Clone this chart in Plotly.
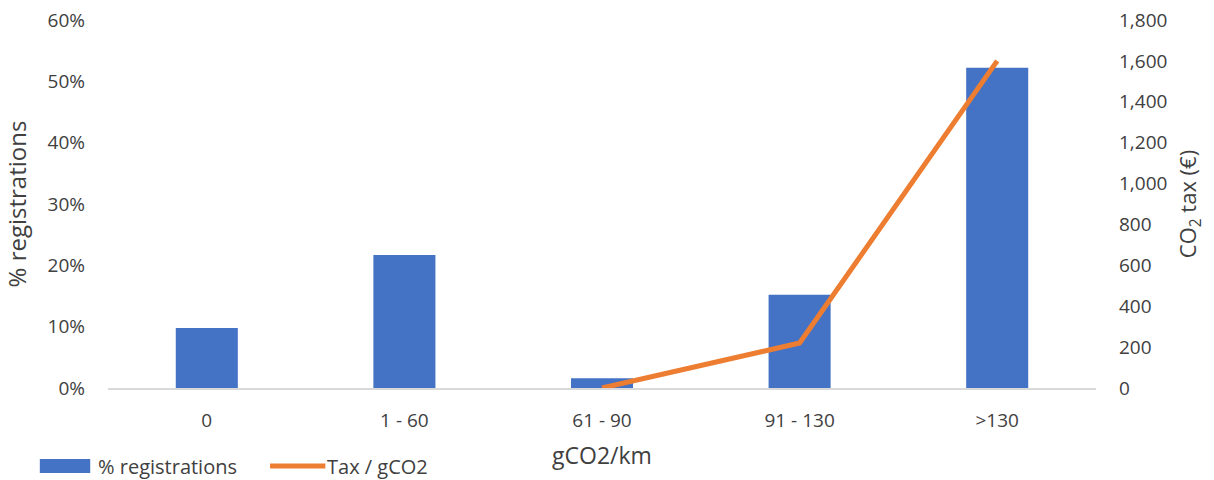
import plotly.graph_objects as go

# Emission bands and their values
bands = ["0", "1 - 60", "61 - 90", "91 - 130", ">130"]
registrations_pct = [9.8, 21.7, 1.6, 15.2, 52.2]
tax_bands = ["61 - 90", "91 - 130", ">130"]
tax_eur = [0, 220, 1600]

left_ticks = [0, 10, 20, 30, 40, 50, 60]
right_ticks = [0, 200, 400, 600, 800, 1000, 1200, 1400, 1600, 1800]

BAR_NAME = "% registrations"
LINE_NAME = "Tax / gCO2"

FONT = "Open Sans"
TEXT = "#404040"
BLUE = "#4472C4"
ORANGE = "#ED7D31"

fig = go.Figure()
fig.add_trace(go.Bar(
    x=bands, y=registrations_pct, name=BAR_NAME,
    marker=dict(color=BLUE, line=dict(width=0)),
    yaxis="y", showlegend=False,
))
fig.add_trace(go.Scatter(
    x=tax_bands, y=tax_eur, name=LINE_NAME, mode="lines",
    line=dict(color=ORANGE, width=5),
    yaxis="y2", showlegend=False,
))

# Legend drawn below the plot: wide colour swatch followed by its label
legend_y = -0.212
fig.add_shape(type="rect", xref="paper", yref="paper",
              x0=-0.069, x1=-0.018, y0=legend_y - 0.019, y1=legend_y + 0.019,
              fillcolor=BLUE, line=dict(width=0))
fig.add_annotation(xref="paper", yref="paper", x=-0.012, y=legend_y,
                   xanchor="left", yanchor="middle", showarrow=False,
                   text=BAR_NAME, font=dict(family=FONT, size=20, color=TEXT))
fig.add_shape(type="line", xref="paper", yref="paper",
              x0=0.164, x1=0.220, y0=legend_y, y1=legend_y,
              line=dict(color=ORANGE, width=5))
fig.add_annotation(xref="paper", yref="paper", x=0.220, y=legend_y,
                   xanchor="left", yanchor="middle", showarrow=False,
                   text=LINE_NAME, font=dict(family=FONT, size=20, color=TEXT))

fig.update_layout(
    width=1214, height=480,
    margin=dict(l=108, r=118, t=20, b=92),
    paper_bgcolor="white", plot_bgcolor="white",
    font=dict(family=FONT, size=19, color=TEXT),
    bargap=0.686,
    showlegend=False,
    xaxis=dict(
        showgrid=False, showline=True, linecolor="#D9D9D9", linewidth=1.5,
        ticks="", ticklabelstandoff=14, automargin=False,
        title=dict(text="gCO2/km", standoff=16, font=dict(size=23)),
    ),
    yaxis=dict(
        range=[0, 60], tickvals=left_ticks,
        ticktext=[f"{v}%" for v in left_ticks],
        showgrid=False, zeroline=False, showline=False,
        ticklabelstandoff=22, automargin=False,
        title=dict(text="% registrations", standoff=14, font=dict(size=24)),
    ),
    yaxis2=dict(
        range=[0, 1800], tickvals=right_ticks,
        ticktext=[f"{v:,}" for v in right_ticks],
        overlaying="y", side="right",
        showgrid=False, zeroline=False, showline=False,
        ticklabelstandoff=22, automargin=False,
        title=dict(text="CO<sub>2</sub> tax (€)", standoff=14, font=dict(size=22)),
    ),
)

fig.write_html("out.html")
